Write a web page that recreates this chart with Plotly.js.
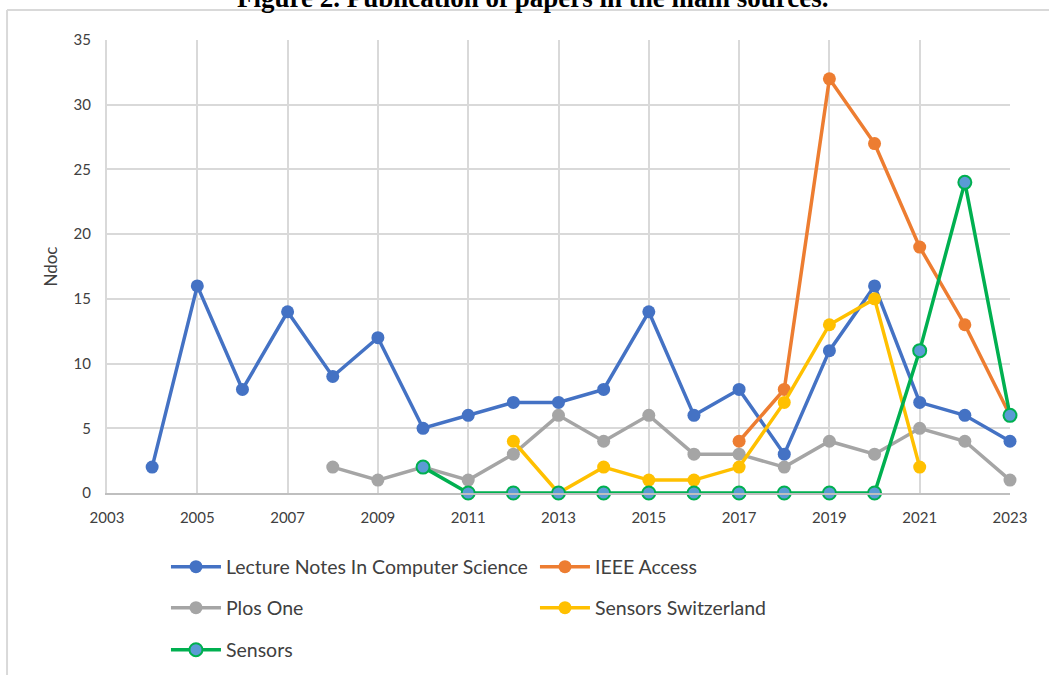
<!DOCTYPE html>
<html>
<head>
<meta charset="utf-8">
<script src="https://cdn.plot.ly/plotly-3.0.1.min.js"></script>
<style>
html,body{margin:0;padding:0;background:#fff;}
#chart{width:1049px;height:675px;}
</style>
</head>
<body>
<div id="chart"></div>
<script>
const lncsYears = [2004,2005,2006,2007,2008,2009,2010,2011,2012,2013,2014,2015,2016,2017,2018,2019,2020,2021,2022,2023];
const lncsVals  = [2,16,8,14,9,12,5,6,7,7,8,14,6,8,3,11,16,7,6,4];
const ieeeYears = [2017,2018,2019,2020,2021,2022,2023];
const ieeeVals  = [4,8,32,27,19,13,6];
const plosYears = [2008,2009,2010,2011,2012,2013,2014,2015,2016,2017,2018,2019,2020,2021,2022,2023];
const plosVals  = [2,1,2,1,3,6,4,6,3,3,2,4,3,5,4,1];
const sswYears  = [2012,2013,2014,2015,2016,2017,2018,2019,2020,2021];
const sswVals   = [4,0,2,1,1,2,7,13,15,2];
const sensYears = [2010,2011,2012,2013,2014,2015,2016,2017,2018,2019,2020,2021,2022,2023];
const sensVals  = [2,0,0,0,0,0,0,0,0,0,0,11,24,6];
const seriesNames = ["Lecture Notes In Computer Science","IEEE Access","Plos One","Sensors Switzerland","Sensors"];
const titleText = "Figure 2. Publication of papers in the main sources.";
const yTitle = "Ndoc";

function tr(x, y, name, color, legendId, mfill, mline) {
  return {
    x: x, y: y, name: name, type: 'scatter', mode: 'lines+markers',
    legend: legendId,
    line: {color: color, width: 3.5},
    marker: {size: 13, color: mfill || color, line: {color: mline || color, width: mline ? 2 : 0}},
    cliponaxis: false
  };
}

const data = [
  tr(lncsYears, lncsVals, seriesNames[0], '#4472C4', 'legend'),
  tr(ieeeYears, ieeeVals, seriesNames[1], '#ED7D31', 'legend'),
  tr(plosYears, plosVals, seriesNames[2], '#A5A5A5', 'legend2'),
  tr(sswYears, sswVals, seriesNames[3], '#FFC000', 'legend2'),
  tr(sensYears, sensVals, seriesNames[4], '#00B050', 'legend3', '#5B9BD5', '#00B050')
];

function leg(y) {
  return {
    orientation: 'h', x: 0.0653, xanchor: 'left', y: y, yanchor: 'middle',
    entrywidth: 304, entrywidthmode: 'pixels', itemwidth: 50,
    font: {size: 19.5, color: '#404040'},
    bgcolor: 'rgba(0,0,0,0)'
  };
}

const layout = {
  width: 1049, height: 675,
  margin: {l: 107, r: 39, t: 40, b: 182, autoexpand: false},
  paper_bgcolor: '#fff', plot_bgcolor: '#fff',
  font: {family: 'Lato, "Open Sans", sans-serif', color: '#404040'},
  showlegend: true,
  xaxis: {
    range: [2003, 2023], dtick: 2, tick0: 2003, showgrid: true, gridcolor: '#D9D9D9', gridwidth: 2,
    zeroline: false, showline: true, linecolor: '#BFBFBF', linewidth: 2,
    ticks: '', tickfont: {size: 15, color: '#404040'}, ticklabelstandoff: 10
  },
  yaxis: {
    range: [0, 35], dtick: 5, showgrid: true, gridcolor: '#D9D9D9', gridwidth: 2,
    zeroline: false, showline: true, linecolor: '#D9D9D9', linewidth: 2,
    ticks: '', tickfont: {size: 15, color: '#404040'}, ticklabelstandoff: 11,
    title: {text: yTitle, font: {size: 17, color: '#404040'}, standoff: 12}
  },
  legend: leg(-0.1634),
  legend2: leg(-0.2539),
  legend3: leg(-0.3466),
  annotations: [{
    text: '<b>' + titleText + '</b>', xref: 'paper', yref: 'paper',
    x: 0.4718, y: 1.0927, xanchor: 'center', yanchor: 'middle', showarrow: false,
    font: {family: '"Liberation Serif", "Times New Roman", serif', size: 27, color: '#000'}
  }],
  shapes: [
    {type: 'line', xref: 'paper', yref: 'paper', x0: -0.1107, x1: 1.05, y0: 1.0662, y1: 1.0662,
     line: {color: '#D9D9D9', width: 2}},
    {type: 'line', xref: 'paper', yref: 'paper', x0: -0.1107, x1: -0.1107, y0: 1.0662, y1: -0.45,
     line: {color: '#D9D9D9', width: 2}}
  ]
};

Plotly.newPlot('chart', data, layout, {displayModeBar: false, staticPlot: true});
</script>
</body>
</html>
